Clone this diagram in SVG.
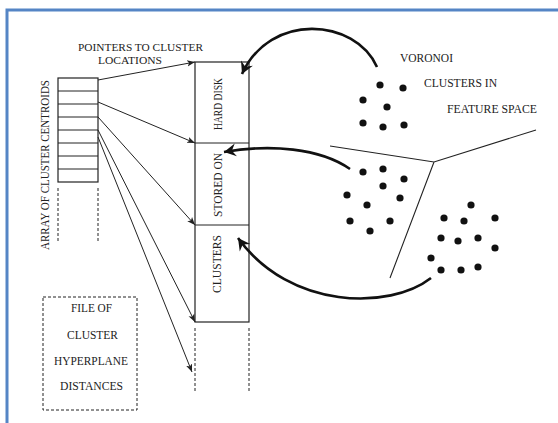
<svg xmlns="http://www.w3.org/2000/svg" width="558" height="423" viewBox="0 0 558 423">
<defs>
<style>
text{font-family:"Liberation Serif","Times New Roman",serif;font-size:12px;fill:#222}
.sm{font-size:10.5px}
.thin{fill:none;stroke:#222;stroke-width:1}
.box{fill:#fff;stroke:#222;stroke-width:1.2}
.dash{fill:none;stroke:#222;stroke-width:1;stroke-dasharray:3 2}
.thick{fill:none;stroke:#111;stroke-width:2.6}
.dot{fill:#111}
.vor{fill:none;stroke:#222;stroke-width:1.1}
</style>
<marker id="ah" viewBox="-8 -4 9 8" refX="0" refY="0" markerWidth="9" markerHeight="8" markerUnits="userSpaceOnUse" orient="auto">
<path d="M0,0 L-8,-3.2 L-6,0 L-8,3.2 Z" fill="#222"/>
</marker>
<marker id="bh" viewBox="-13 -7 14 14" refX="0" refY="0" markerWidth="14" markerHeight="14" markerUnits="userSpaceOnUse" orient="auto">
<path d="M0,0 L-12,-6.5 L-8,0 L-12,6.5 Z" fill="#111"/>
</marker>
</defs>
<rect x="0" y="0" width="558" height="423" fill="#fff"/>
<rect x="7" y="10" width="600" height="500" fill="none" stroke="#5585c5" stroke-width="3"/>

<g id="pointers-label">
<text class="sm" x="78" y="51" textLength="125" lengthAdjust="spacingAndGlyphs">POINTERS TO CLUSTER</text>
<text class="sm" x="98" y="64" textLength="64" lengthAdjust="spacingAndGlyphs">LOCATIONS</text>
</g>

<g id="array">
<rect class="box" x="58" y="78" width="40" height="104"/>
<path class="thin" d="M58,91H98M58,104H98M58,117H98M58,130H98M58,143H98M58,156H98M58,169H98"/>
<path class="dash" d="M58,188V243M98,188V243"/>
<text transform="translate(49,165) rotate(-90)" text-anchor="middle" textLength="170" lengthAdjust="spacingAndGlyphs">ARRAY OF CLUSTER CENTROIDS</text>
</g>

<g id="storage">
<rect class="box" x="195" y="62" width="54" height="260"/>
<path class="thin" d="M195,143H249M195,225H249"/>
<path class="dash" d="M195,328V392M249,328V392"/>
<text transform="translate(222,104) rotate(-90)" text-anchor="middle" textLength="52" lengthAdjust="spacingAndGlyphs">HARD DISK</text>
<text transform="translate(222,185) rotate(-90)" text-anchor="middle" textLength="64" lengthAdjust="spacingAndGlyphs">STORED  ON</text>
<text transform="translate(221,264) rotate(-90)" text-anchor="middle" textLength="58" lengthAdjust="spacingAndGlyphs">CLUSTERS</text>
</g>

<g id="file-box">
<rect class="dash" x="43" y="297" width="94" height="113"/>
<text x="71" y="312" textLength="41" lengthAdjust="spacingAndGlyphs">FILE OF</text>
<text x="67" y="339" textLength="51" lengthAdjust="spacingAndGlyphs">CLUSTER</text>
<text x="54" y="365" textLength="74" lengthAdjust="spacingAndGlyphs">HYPERPLANE</text>
<text x="60" y="390" textLength="63" lengthAdjust="spacingAndGlyphs">DISTANCES</text>
</g>

<g id="voronoi-label">
<text x="400" y="62" textLength="53" lengthAdjust="spacingAndGlyphs">VORONOI</text>
<text x="424" y="87" textLength="73" lengthAdjust="spacingAndGlyphs">CLUSTERS IN</text>
<text x="447" y="113" textLength="90" lengthAdjust="spacingAndGlyphs">FEATURE SPACE</text>
</g>

<g id="voronoi">
<path class="vor" d="M330,146L434,162L536,130M434,162L390,278"/>
</g>

<g id="cluster-1">
<circle class="dot" cx="380" cy="85" r="3.6"/><circle class="dot" cx="403" cy="88" r="3.6"/>
<circle class="dot" cx="363" cy="100" r="3.6"/><circle class="dot" cx="387" cy="107" r="3.6"/>
<circle class="dot" cx="363" cy="123" r="3.6"/><circle class="dot" cx="383" cy="127" r="3.6"/>
<circle class="dot" cx="404" cy="125" r="3.6"/>
</g>
<g id="cluster-2">
<circle class="dot" cx="363" cy="172" r="3.6"/><circle class="dot" cx="383" cy="169" r="3.6"/>
<circle class="dot" cx="404" cy="179" r="3.6"/><circle class="dot" cx="383" cy="186" r="3.6"/>
<circle class="dot" cx="347" cy="195" r="3.6"/><circle class="dot" cx="400" cy="198" r="3.6"/>
<circle class="dot" cx="367" cy="205" r="3.6"/><circle class="dot" cx="350" cy="221" r="3.6"/>
<circle class="dot" cx="390" cy="221" r="3.6"/><circle class="dot" cx="370" cy="231" r="3.6"/>
</g>
<g id="cluster-3">
<circle class="dot" cx="471" cy="205" r="3.6"/><circle class="dot" cx="444" cy="218" r="3.6"/>
<circle class="dot" cx="464" cy="221" r="3.6"/><circle class="dot" cx="495" cy="218" r="3.6"/>
<circle class="dot" cx="441" cy="238" r="3.6"/><circle class="dot" cx="458" cy="241" r="3.6"/>
<circle class="dot" cx="478" cy="238" r="3.6"/><circle class="dot" cx="495" cy="248" r="3.6"/>
<circle class="dot" cx="431" cy="258" r="3.6"/><circle class="dot" cx="441" cy="270" r="3.6"/>
<circle class="dot" cx="461" cy="270" r="3.6"/><circle class="dot" cx="478" cy="267" r="3.6"/>
</g>

<g id="connectors">
<path class="thin" d="M98,80L195,62" marker-end="url(#ah)"/>
<path class="thin" d="M98,102L195,143" marker-end="url(#ah)"/>
<path class="thin" d="M98,117L195,225" marker-end="url(#ah)"/>
<path class="thin" d="M98,130L195,322" marker-end="url(#ah)"/>
<path class="thin" d="M98,137L192,372" marker-end="url(#ah)"/>
<path class="thick" d="M377,67C355,18 270,12 242,74" marker-end="url(#bh)"/>
<path class="thick" d="M350,169C320,148 270,144 224,152" marker-end="url(#bh)"/>
<path class="thick" d="M431,278C390,310 290,310 238,238" marker-end="url(#bh)"/>
</g>
</svg>
